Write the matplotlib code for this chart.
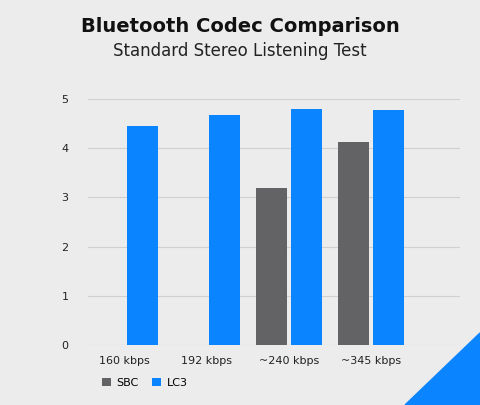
import numpy as np
import matplotlib.pyplot as plt
from matplotlib.patches import Polygon

categories = ["160 kbps", "192 kbps", "~240 kbps", "~345 kbps"]
sbc = [np.nan, np.nan, 3.2, 4.13]
lc3 = [4.45, 4.68, 4.80, 4.78]

bg = "#ececec"
blue = "#0a84ff"
grey = "#636366"

fig = plt.figure(figsize=(4.8, 4.05), dpi=100, facecolor=bg)
ax = fig.add_axes([88 / 480, 60 / 405, 372 / 480, 246 / 405], facecolor=bg)

x = np.arange(len(categories))
w = 0.38
ax.bar(x - w / 2 - 0.025, sbc, w, color=grey, label="SBC")
ax.bar(x + w / 2 + 0.025, lc3, w, color=blue, label="LC3")

ax.set_xlim(-0.45, 4.09)
ax.set_ylim(0, 5)
ax.set_yticks(range(6))
ax.set_xticks(x)
ax.set_xticklabels(categories)
ax.grid(axis="y", color="#d0d0d0", linewidth=0.8)
ax.set_axisbelow(True)
for s in ax.spines.values():
    s.set_visible(False)
ax.tick_params(length=0, labelsize=8, colors="#222222", pad=8)
ax.yaxis.set_tick_params(pad=14)

fig.text(0.5, 0.935, "Bluetooth Codec Comparison", ha="center", va="center",
         fontsize=14, fontweight="bold", color="#111111")
fig.text(0.5, 0.875, "Standard Stereo Listening Test", ha="center", va="center",
         fontsize=12, color="#222222")

fig.legend(loc="center left", bbox_to_anchor=(92 / 480, 1 - 383 / 405),
           ncol=2, frameon=False, fontsize=8, handlelength=0.8, handleheight=0.8,
           columnspacing=1.2, handletextpad=0.5)

fig.patches.append(Polygon([[1.0, 0.0], [1.0, 1 - 333 / 405], [405 / 480, 0.0]], closed=True,
                           transform=fig.transFigure, color=blue))

fig.savefig("out.png", dpi=100, facecolor=bg)
